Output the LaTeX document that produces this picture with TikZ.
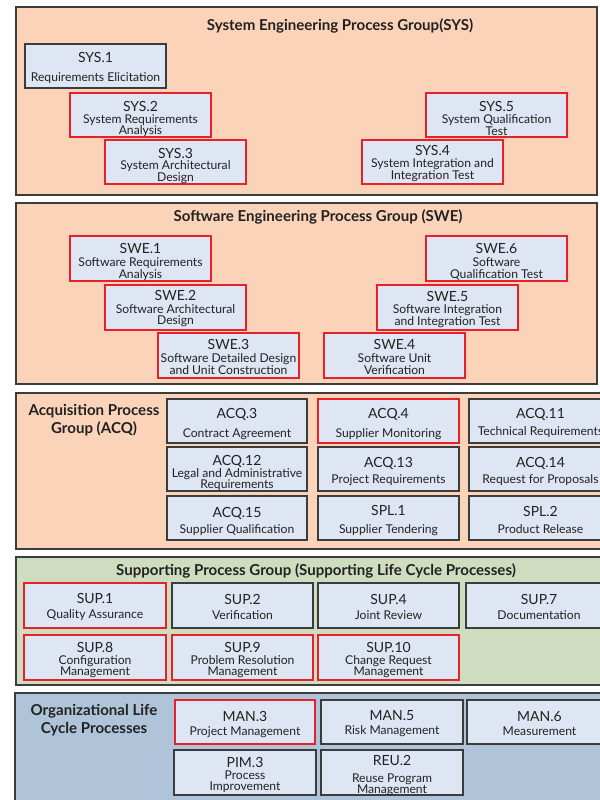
\documentclass[tikz,border=0pt]{standalone}
\usepackage{fontspec}
\setmainfont{Lato}
\usetikzlibrary{calc}
\definecolor{peach}{HTML}{FBD3B9}
\definecolor{boxblue}{HTML}{DEE6F3}
\definecolor{supgreen}{HTML}{D0DCC0}
\definecolor{orgblue}{HTML}{AFC4D8}
\definecolor{hired}{HTML}{E8202A}
\definecolor{dborder}{HTML}{3C3C3C}
\definecolor{txt}{HTML}{222222}
\newcommand\idf{\fontsize{10.5}{8.7}\selectfont}
\newcommand\df{\fontsize{9.1}{8.7}\selectfont\lineskiplimit=-100pt\lineskip=0pt}
\newcommand\tf{\fontsize{11.3}{13.5}\selectfont\bfseries}
% name, style, x1, y1, x2, y2, text shift, text
\newcommand\proc[8]{%
  \node[#2, geo={#3}{#4}{#5}{#6}] (#1) {};
  \node[ptext] (#1t) at ($(#1.center)+(0,#7)$) {#8};}
\begin{document}
\begin{tikzpicture}[x=0.75pt,y=-0.75pt,
  geo/.style n args={4}{at={({(#1+#3)/2},{(#2+#4)/2})}, minimum width={(#3-#1)*0.75pt}, minimum height={(#4-#2)*0.75pt}},
  pbox/.style={draw=dborder, line width=1pt, fill=boxblue, inner sep=0pt, outer sep=0pt},
  rbox/.style={pbox, draw=hired, line width=2.2pt},
  ptext/.style={inner sep=0pt, outer sep=0pt, align=center, text=txt, font=\df},
  grp/.style={draw=dborder, line width=1.2pt, inner sep=0pt, outer sep=0pt},
  ttl/.style={inner sep=0pt, align=center, text=txt, font=\tf}
]
\useasboundingbox (0,0) rectangle (600,800);
\clip (0,0) rectangle (600,800);
\fill[white] (0,0) rectangle (600,800);

% ---------------- SYS ----------------
\node[grp, fill=peach, geo={16}{7}{597}{195}] (gsys) {};
\node[ttl] (tsys) at (340,26) {System Engineering Process Group(SYS)};
\proc{sys1}{pbox}{25}{44}{166}{88}{2}{{\idf SYS.1}\\[5.3pt]Requirements Elicitation}
\proc{sys2}{rbox}{70}{93}{211}{137}{4}{{\idf SYS.2}\\[0pt]System Requirements\\Analysis}
\proc{sys3}{rbox}{105}{140}{246}{184}{4}{{\idf SYS.3}\\[0pt]System Architectural\\Design}
\proc{sys5}{rbox}{426}{93}{567}{137}{3.5}{{\idf SYS.5}\\[0.6pt]System Qualification\\Test}
\proc{sys4}{rbox}{362}{140}{503}{184}{1.5}{{\idf SYS.4}\\[0pt]System Integration and\\Integration Test}

% ---------------- SWE ----------------
\node[grp, fill=peach, geo={16}{203}{597}{384}] (gswe) {};
\node[ttl] (tswe) at (318,217) {Software Engineering Process Group (SWE)};
\proc{swe1}{rbox}{70}{236}{211}{281}{3}{{\idf SWE.1}\\[1.3pt]Software Requirements\\Analysis}
\proc{swe2}{rbox}{105}{285}{246}{330}{1.5}{{\idf SWE.2}\\[0.6pt]Software Architectural\\Design}
\proc{swe3}{rbox}{158}{333}{299}{378}{1.5}{{\idf SWE.3}\\[1.3pt]Software Detailed Design\\and Unit Construction}
\proc{swe6}{rbox}{426}{236}{567}{281}{3}{{\idf SWE.6}\\[1.3pt]Software\\Qualification Test}
\proc{swe5}{rbox}{377}{285}{518}{330}{2}{{\idf SWE.5}\\[0.6pt]Software Integration\\and Integration Test}
\proc{swe4}{rbox}{324}{333}{465}{378}{1.5}{{\idf SWE.4}\\[1.3pt]Software Unit\\Verification}

% ---------------- ACQ ----------------
\node[grp, fill=peach, geo={16}{393}{620}{549}] (gacq) {};
\node[ttl] (tacq) at (94,420) {Acquisition Process\\Group (ACQ)};
\proc{acq3}{pbox}{167}{399}{307}{443}{3}{{\idf ACQ.3}\\[5.3pt]Contract Agreement}
\proc{acq4}{rbox}{318}{399}{459}{443}{3}{{\idf ACQ.4}\\[5.3pt]Supplier Monitoring}
\proc{acq11}{pbox}{469}{399}{612}{443}{2}{{\idf ACQ.11}\\[3.8pt]Technical Requirements}
\proc{acq12}{pbox}{167}{447}{307}{491}{4}{{\idf ACQ.12}\\[0pt]Legal and Administrative\\Requirements}
\proc{acq13}{pbox}{318}{447}{459}{491}{2.5}{{\idf ACQ.13}\\[3.1pt]Project Requirements}
\proc{acq14}{pbox}{469}{447}{612}{491}{2.5}{{\idf ACQ.14}\\[3.1pt]Request for Proposals}
\proc{acq15}{pbox}{167}{496}{307}{540}{3.5}{{\idf ACQ.15}\\[3.1pt]Supplier Qualification}
\proc{spl1}{pbox}{318}{496}{459}{540}{2.5}{{\idf SPL.1}\\[4.6pt]Supplier Tendering}
\proc{spl2}{pbox}{469}{496}{612}{540}{2}{{\idf SPL.2}\\[3.8pt]Product Release}

% ---------------- SUP ----------------
\node[grp, fill=supgreen, geo={16}{557}{620}{685}] (gsup) {};
\node[ttl] (tsup) at (316,571) {Supporting Process Group (Supporting Life Cycle Processes)};
\proc{sup1}{rbox}{24}{583}{166}{628}{1.5}{{\idf SUP.1}\\[2.3pt]Quality Assurance}
\proc{sup2}{pbox}{172}{583}{313}{628}{1.5}{{\idf SUP.2}\\[2.3pt]Verification}
\proc{sup4}{pbox}{318}{583}{459}{628}{1.5}{{\idf SUP.4}\\[2.3pt]Joint Review}
\proc{sup7}{pbox}{466}{583}{612}{628}{1.5}{{\idf SUP.7}\\[2.3pt]Documentation}
\proc{sup8}{rbox}{24}{635}{166}{680}{2.5}{{\idf SUP.8}\\[0.3pt]Configuration\\Management}
\proc{sup9}{rbox}{172}{635}{313}{680}{2.5}{{\idf SUP.9}\\[0.3pt]Problem Resolution\\Management}
\proc{sup10}{rbox}{318}{635}{459}{680}{2.5}{{\idf SUP.10}\\[0.3pt]Change Request\\Management}

% ---------------- ORG ----------------
\node[grp, fill=orgblue, geo={15}{693}{620}{820}] (gorg) {};
\node[ttl] (torg) at (94,720) {Organizational Life\\Cycle Processes};
\proc{man3}{rbox}{175}{700}{315}{744}{2.5}{{\idf MAN.3}\\[1.6pt]Project Management}
\proc{man5}{pbox}{321}{700}{463}{744}{1.5}{{\idf MAN.5}\\[1.6pt]Risk Management}
\proc{man6}{pbox}{467}{700}{612}{744}{1.5}{{\idf MAN.6}\\[1.6pt]Measurement}
\proc{pim3}{pbox}{174}{750}{316}{795}{2.5}{{\idf PIM.3}\\[0.3pt]Process\\Improvement}
\proc{reu2}{pbox}{321}{750}{463}{795}{3.5}{{\idf REU.2}\\[3.6pt]Reuse Program\\Management}
\end{tikzpicture}
\end{document}
